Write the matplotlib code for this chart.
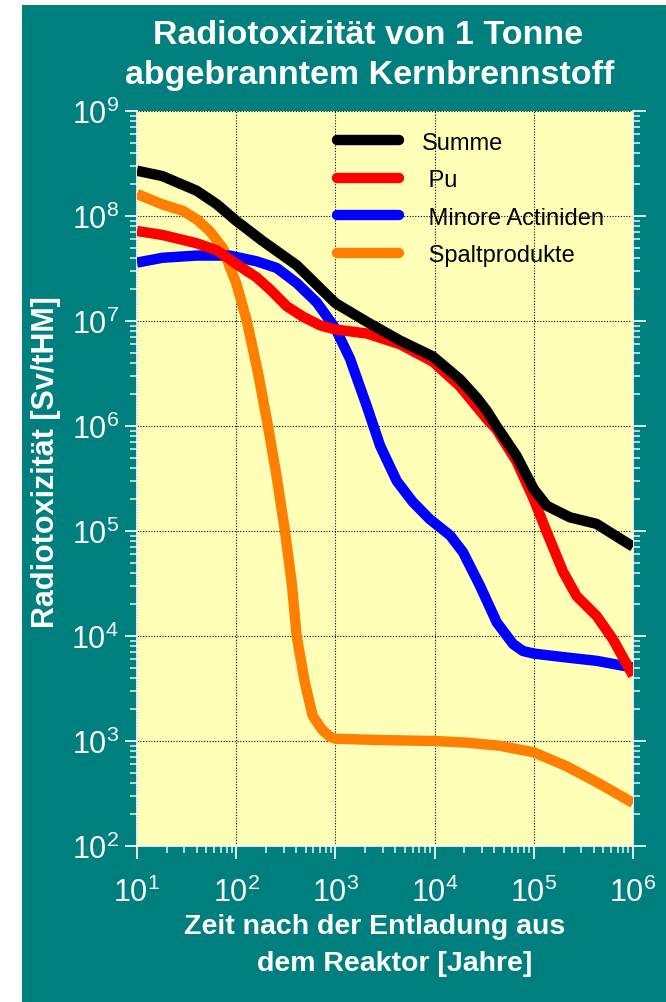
import matplotlib
matplotlib.use("Agg")
import matplotlib.pyplot as plt
from matplotlib.patches import Rectangle
from matplotlib.ticker import LogLocator, NullFormatter

# ---- data ----
summe_years = [10, 18, 40, 64, 100, 186, 407, 1000, 2080, 4500, 9600, 17900, 26700, 33500,
               42000, 67000, 100000, 135000, 231000, 428000, 680000, 1000000]
summe_vals = [2.7e8, 2.4e8, 1.74e8, 1.29e8, 9.0e7, 5.75e7, 3.4e7, 1.48e7, 9.8e6, 6.5e6,
              4.6e6, 2.8e6, 1.85e6, 1.4e6, 1.0e6, 5.2e5, 2.5e5, 1.74e5, 1.35e5, 1.17e5,
              8.9e4, 7.1e4]

pu_years = [10, 18, 40, 64, 100, 161, 219, 324, 470, 700, 1000, 2080, 4500, 9600, 17900,
            33500, 42000, 67000, 100000, 135000, 197000, 270000, 430000, 628000, 1000000]
pu_vals = [7.2e7, 6.6e7, 5.5e7, 4.7e7, 3.5e7, 2.6e7, 2.0e7, 1.38e7, 1.1e7, 9.1e6, 8.3e6,
           7.6e6, 6.0e6, 4.1e6, 2.4e6, 1.17e6, 9.3e5, 4.6e5, 2.0e5, 9.8e4, 4.1e4, 2.4e4,
           1.55e4, 9.3e3, 4.2e3]

ma_years = [10, 18, 40, 86, 161, 256, 407, 650, 1000, 1400, 2070, 2820, 4150, 6000, 8900,
            14300, 19300, 28700, 42300, 61700, 77600, 100000, 197000, 430000, 1000000]
ma_vals = [3.6e7, 4.0e7, 4.2e7, 4.2e7, 3.7e7, 3.2e7, 2.3e7, 1.5e7, 8.5e6, 4.4e6, 1.55e6,
           6.5e5, 3.0e5, 1.9e5, 1.3e5, 9.1e4, 6.3e4, 3.0e4, 1.35e4, 8.4e3, 7.2e3, 6.8e3,
           6.3e3, 5.8e3, 5.0e3]

sp_years = [10, 18, 29, 40, 54, 74, 87, 100, 128, 166, 209, 257, 310, 363, 407, 492, 590,
            730, 880, 1000, 3000, 10000, 21000, 45700, 100000, 214000, 464000, 1000000]
sp_vals = [1.62e8, 1.29e8, 1.12e8, 9.3e7, 7.2e7, 4.9e7, 3.2e7, 2.3e7, 1.0e7, 3.2e6, 1.0e6,
           3.2e5, 1.0e5, 3.2e4, 1.0e4, 3.6e3, 1.74e3, 1.29e3, 1.1e3, 1.05e3, 1.02e3, 1.0e3,
           965, 900, 780, 575, 390, 257]

series_labels = ["Summe", " Pu", " Minore Actiniden", " Spaltprodukte"]
series_colors = ["#000000", "#FF0000", "#0000FF", "#FF8000"]

title_lines = ["Radiotoxizität von 1 Tonne", "abgebranntem Kernbrennstoff"]
xlabel_lines = ["Zeit nach der Entladung aus", "dem Reaktor [Jahre]"]
ylabel_text = "Radiotoxizität [Sv/tHM]"

# ---- style ----
plt.rcParams['font.family'] = ['Liberation Sans', 'DejaVu Sans']
TEAL = "#007F7F"
YELLOW = "#FFFFB8"

W, H = 666, 1003
fig = plt.figure(figsize=(W / 100, H / 100), dpi=100, facecolor="white")
fig.patches.append(Rectangle((22 / W, 0), 1 - 22 / W, 1 - 6 / H, transform=fig.transFigure,
                             facecolor=TEAL, edgecolor="none", zorder=-10))

ax = fig.add_axes([137 / W, (H - 847) / H, (633 - 137) / W, (847 - 112) / H])
ax.set_zorder(1)
ax.set_facecolor(YELLOW)
ax.set_xscale("log")
ax.set_yscale("log")
ax.set_xlim(10, 1e6)
ax.set_ylim(1e2, 1e9)

data = [(summe_years, summe_vals), (pu_years, pu_vals), (ma_years, ma_vals), (sp_years, sp_vals)]
handles = {}
for i in [3, 2, 1, 0]:
    yrs, vals = data[i]
    ln, = ax.plot(yrs, vals, color=series_colors[i], lw=7.5, solid_capstyle="butt",
                  solid_joinstyle="round", label=series_labels[i], zorder=3 + (3 - i))
    handles[i] = ln

ax.grid(True, which="major", color="black", linestyle=(0, (1, 1.5)), linewidth=0.8)
ax.set_axisbelow(True)

ax.xaxis.set_major_locator(LogLocator(base=10, numticks=10))
ax.yaxis.set_major_locator(LogLocator(base=10, numticks=10))
ax.xaxis.set_minor_locator(LogLocator(base=10, subs=range(2, 10), numticks=20))
ax.yaxis.set_minor_locator(LogLocator(base=10, subs=range(2, 10), numticks=20))
ax.xaxis.set_minor_formatter(NullFormatter())
ax.yaxis.set_minor_formatter(NullFormatter())

ax.tick_params(axis="both", which="major", direction="out", length=9, width=1.2,
               color="white", labelcolor="white", labelsize=22)
ax.tick_params(axis="both", which="minor", direction="out", length=5, width=1.2,
               color="#CFEAEA")
ax.tick_params(axis="y", which="both", left=True, right=True, pad=4)
ax.tick_params(axis="x", which="both", bottom=True, top=False)
ax.tick_params(axis="x", which="major", pad=13)
for s in ax.spines.values():
    s.set_color("white")
    s.set_linewidth(1.2)
ax.spines["top"].set_visible(False)

LFS = 17
lpx = LFS * 100 / 72
leg_handles = [handles[i] for i in range(4)]
leg = ax.legend(leg_handles, series_labels, loc="upper left", bbox_to_anchor=(0.403, 0.972),
                frameon=False, handlelength=62 / lpx, handletextpad=23 / lpx,
                labelspacing=0.66, borderpad=0, borderaxespad=0,
                prop={"size": LFS})
for h in leg.get_lines():
    h.set_solid_capstyle("round")
    h.set_linewidth(7.5)
for t in leg.get_texts():
    t.set_color("black")

# titles and labels
tkw = dict(color="white", fontweight="bold", ha="center", va="baseline")
fig.text(368 / W, 1 - 44 / H, title_lines[0], fontsize=24.5, **tkw)
fig.text(370 / W, 1 - 84 / H, title_lines[1], fontsize=24.5, **tkw)
fig.text(375 / W, 1 - 934 / H, xlabel_lines[0], fontsize=20.5, **tkw)
fig.text(395 / W, 1 - 971 / H, xlabel_lines[1], fontsize=20.5, **tkw)
fig.text(46 / W, 1 - 462 / H, ylabel_text, fontsize=22, rotation=90, color="white",
         fontweight="bold", ha="center", va="center")

fig.savefig("out.png", dpi=100, facecolor=fig.get_facecolor())
